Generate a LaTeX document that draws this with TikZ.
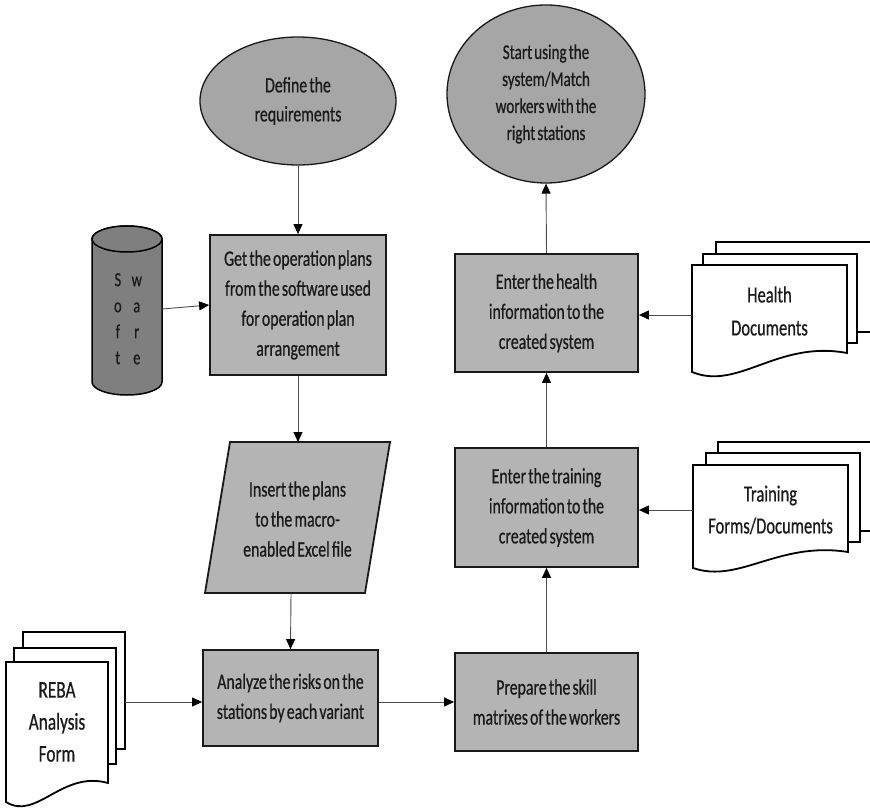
\documentclass[tikz,border=0pt]{standalone}
\usepackage{fontspec}
\setmainfont{Carlito}[FakeStretch=0.72,WordSpace=0.6,FakeBold=0.6]
\usetikzlibrary{shapes.geometric,arrows.meta}
\definecolor{boxgray}{HTML}{B4B4B4}
\definecolor{ellgray}{HTML}{A6A6A6}
\definecolor{cylgray}{HTML}{7F7F7F}
\definecolor{inkc}{HTML}{1A1A1A}
\begin{document}
\begin{tikzpicture}[x=1pt,y=-1pt,
  txt/.style={align=center,font=\fontsize{22}{30}\selectfont,text=inkc},
  procbox/.style={txt,draw=black!90,line width=1.8pt,fill=boxgray,inner sep=0pt},
  ellbox/.style={txt,ellipse,draw=black!90,line width=1.3pt,fill=ellgray,inner sep=0pt},
  arr/.style={draw=black!70,line width=0.9pt,-{Triangle[length=10pt,width=9pt,black]}},
  sheet/.style={draw=black,line width=1.8pt,fill=white,line join=miter},
  cylshape/.style={draw=black,line width=1.5pt,fill=cylgray}]
\clip (0,0) rectangle (870,810);
% ellipses
\node[ellbox,minimum width=196pt,minimum height=128pt,font=\fontsize{22}{29}\selectfont] (e1) at (298,101) {Define the\\requirements};
\node[ellbox,minimum width=198pt,minimum height=178pt,font=\fontsize{21}{27}\selectfont] (e2) at (546,94) {Start using the\\system/Match\\workers with the\\right stations};
% process boxes
\node[procbox,minimum width=176pt,minimum height=140pt] (b1) at (298,305) {Get the operation plans\\from the software used\\for operation plan\\arrangement};
\node[procbox,minimum width=175pt,minimum height=96pt] (b2) at (290.5,698) {Analyze the risks on the\\stations by each variant};
\node[procbox,minimum width=183pt,minimum height=98pt] (b3) at (546.5,702) {Prepare the skill\\matrixes of the workers};
\node[procbox,minimum width=183pt,minimum height=119pt] (b4) at (546.5,507.5) {Enter the training\\information to the\\created system};
\node[procbox,minimum width=183pt,minimum height=118pt] (b5) at (546.5,313) {Enter the health\\information to the\\created system};
% parallelogram
\path[draw=black!90,line width=1.8pt,fill=boxgray] (230,442) -- (390,442) -- (365,593) -- (205,593) -- cycle;
\node[txt] (par) at (297.5,519) {Insert the plans\\to the macro-\\enabled Excel file};
\coordinate (partop) at (298,442);
\coordinate (parbot) at (291,593);
% cylinder
\path[cylshape] (92,239) -- (92,382) arc[start angle=180,end angle=0,x radius=35,y radius=13] -- (162,239) arc[start angle=0,end angle=-180,x radius=35,y radius=13] -- cycle;
\draw[cylshape] (127,239) ellipse[x radius=35,y radius=13];
\node[text=inkc,font=\fontsize{20}{26}\selectfont,inner sep=0pt] (cyl) at (128,320) {\begin{tabular}{@{}c@{\hspace{10pt}}c@{}}S&w\\o&a\\f&r\\t&e\end{tabular}};
\coordinate (cyle) at (162,309);
% health documents
\path[sheet] (716,242) -- (875,242) -- (875,332) -- (716,332) -- cycle;
\path[sheet] (703,254) -- (857,254) -- (857,343) -- (703,343) -- cycle;
\path[sheet] (692,265) -- (847,265) -- (847,353) .. controls (777,340) and (738.5,391) .. (692,372) -- cycle;
\node[txt,font=\fontsize{23}{33}\selectfont] (hdt) at (769.5,311) {Health\\Documents};
\coordinate (hdl) at (692,315);
% training documents
\path[sheet] (718,442) -- (875,442) -- (875,531) -- (718,531) -- cycle;
\path[sheet] (706,453) -- (860,453) -- (860,542) -- (706,542) -- cycle;
\path[sheet] (693,465) -- (848,465) -- (848,552) .. controls (778,541) and (739.5,584) .. (693,568) -- cycle;
\node[txt,font=\fontsize{23}{32}\selectfont] (tdt) at (770.5,510) {Training\\Forms/Documents};
\coordinate (tdl) at (693,510);
% REBA
\path[sheet] (23,632) -- (125,632) -- (125,749) -- (23,749) -- cycle;
\path[sheet] (14,648) -- (116,648) -- (116,764) -- (14,764) -- cycle;
\path[sheet] (6,662) -- (108,662) -- (108,783) .. controls (62,770) and (36.6,821) .. (6,802) -- cycle;
\node[txt,font=\fontsize{24}{32}\selectfont] (rbt) at (57,722) {REBA\\Analysis\\Form};
\coordinate (rebr) at (125,702);
% connectors
\draw[arr] (e1.south) -- (b1.north);
\draw[arr] (cyle) -- (b1.west);
\draw[arr] (b1.south) -- (partop);
\draw[arr] (parbot) -- (b2.north);
\draw[arr] (rebr) -- (b2.west |- rebr);
\draw[arr] (b2.east |- b3) -- (b3.west);
\draw[arr] (b3.north) -- (b4.south);
\draw[arr] (b4.north) -- (b5.south);
\draw[arr] (b5.north) -- (e2.south);
\draw[arr] (hdl) -- (b5.east |- hdl);
\draw[arr] (tdl) -- (b4.east |- tdl);
\end{tikzpicture}
\end{document}
